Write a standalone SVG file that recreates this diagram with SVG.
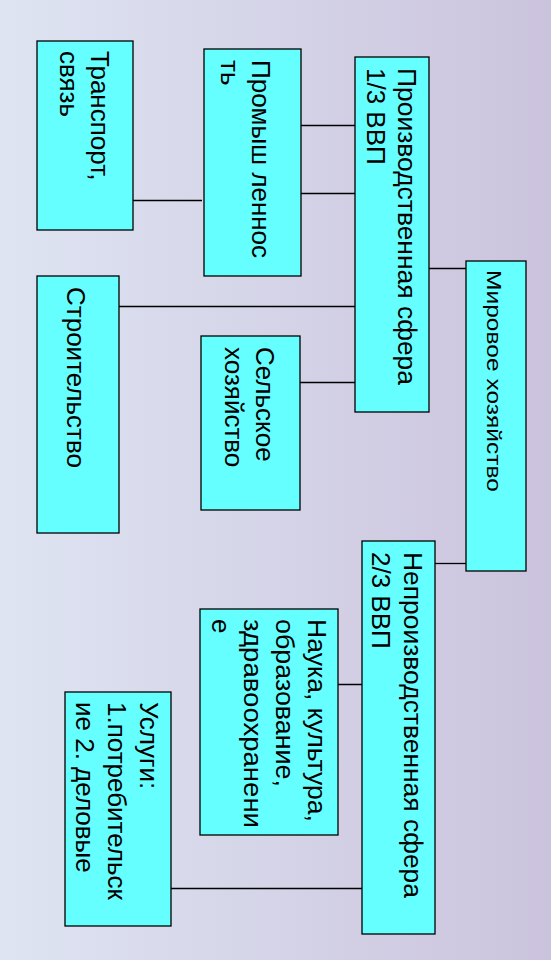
<svg xmlns="http://www.w3.org/2000/svg" width="551" height="960" viewBox="0 0 551 960">
<defs>
<linearGradient id="bg" x1="0" y1="0" x2="1" y2="0">
<stop offset="0" stop-color="#dee4f2"/>
<stop offset="1" stop-color="#cbc3dd"/>
</linearGradient>
</defs>
<style>
.box{fill:#66ffff;stroke:#000;stroke-width:1.3}
.t{font-family:"Liberation Sans",Arial,sans-serif;font-size:26px;fill:#000}
.c{stroke:#000;stroke-width:1.3;fill:none}
</style>
<rect x="0" y="0" width="551" height="960" fill="url(#bg)"/>
<g id="connectors">
<line class="c" x1="301" y1="125.5" x2="355" y2="125.5"/>
<line class="c" x1="301" y1="193.5" x2="355" y2="193.5"/>
<line class="c" x1="133" y1="200.5" x2="202" y2="200.5"/>
<line class="c" x1="119" y1="306.5" x2="355" y2="306.5"/>
<line class="c" x1="300" y1="382.5" x2="355" y2="382.5"/>
<line class="c" x1="429" y1="268.5" x2="466" y2="268.5"/>
<line class="c" x1="435" y1="563.5" x2="466" y2="563.5"/>
<line class="c" x1="321" y1="684.5" x2="362" y2="684.5"/>
<line class="c" x1="171" y1="888.5" x2="362" y2="888.5"/>
</g>
<g id="transport">
<rect class="box" x="37" y="41" width="96" height="189"/>
<text class="t" transform="translate(91,51) rotate(90)"><tspan x="0" y="0">Транспорт,</tspan><tspan x="0" dy="31.5">связь</tspan></text>
</g>
<g id="promyshlennost">
<rect class="box" x="204" y="49" width="97" height="227"/>
<text class="t" transform="translate(252,60) rotate(90)"><tspan x="0" y="0">Промыш леннос</tspan><tspan x="0" dy="31">ть</tspan></text>
</g>
<g id="proizvodstvennaya">
<rect class="box" x="355" y="57" width="74" height="355"/>
<text class="t" transform="translate(398,68) rotate(90)" textLength="317" lengthAdjust="spacingAndGlyphs">Производственная сфера</text>
<text class="t" transform="translate(366.5,68) rotate(90)">1/3 ВВП</text>
</g>
<g id="mirovoe">
<rect class="box" x="466" y="261" width="60" height="310"/>
<text class="t" style="font-size:21px" transform="translate(487,270) rotate(90)" textLength="222" lengthAdjust="spacingAndGlyphs">Мировое хозяйство</text>
</g>
<g id="stroitelstvo">
<rect class="box" x="37" y="276" width="82" height="257"/>
<text class="t" transform="translate(67,287) rotate(90)">Строительство</text>
</g>
<g id="selskoe">
<rect class="box" x="201" y="336" width="99" height="174"/>
<text class="t" transform="translate(256,347) rotate(90)"><tspan x="0" y="0">Сельское</tspan><tspan x="0" dy="31.5">хозяйство</tspan></text>
</g>
<g id="neproizvodstvennaya">
<rect class="box" x="362" y="541" width="73" height="393"/>
<text class="t" transform="translate(404,552) rotate(90)" textLength="346" lengthAdjust="spacingAndGlyphs">Непроизводственная сфера</text>
<text class="t" transform="translate(372,552) rotate(90)">2/3 ВВП</text>
</g>
<g id="nauka">
<rect class="box" x="200" y="609" width="138" height="226"/>
<text class="t" transform="translate(308,619) rotate(90)" textLength="203" lengthAdjust="spacingAndGlyphs">Наука, культура,</text>
<text class="t" transform="translate(276,619) rotate(90)" textLength="168" lengthAdjust="spacingAndGlyphs">образование,</text>
<text class="t" transform="translate(244,619) rotate(90)" textLength="209" lengthAdjust="spacingAndGlyphs">здравоохранени</text>
<text class="t" transform="translate(212,619) rotate(90)">е</text>
</g>
<g id="uslugi">
<rect class="box" x="65" y="692" width="106" height="234"/>
<text class="t" transform="translate(139.5,702) rotate(90)"><tspan x="0" y="0">Услуги:</tspan><tspan x="0" dy="32">1.потребительск</tspan><tspan x="0" dy="32">ие 2. деловые</tspan></text>
</g>
</svg>
